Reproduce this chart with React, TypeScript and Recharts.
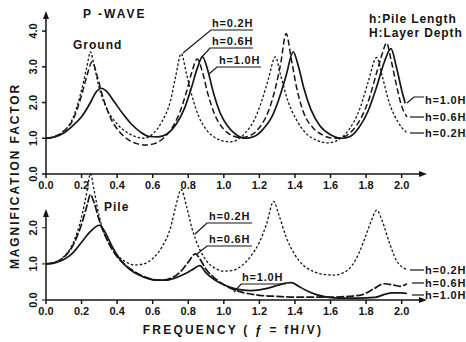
import { LineChart, Line, XAxis, YAxis, ReferenceLine } from "recharts";

// frequency ticks and value ticks
const freqTicks = [0, 0.2, 0.4, 0.6, 0.8, 1.0, 1.2, 1.4, 1.6, 1.8, 2.0];
const topTicks = [0, 1, 2, 3, 4];
const pileTicks = [0, 1, 2];

// Ground response (top panel), [f, magnification]
const groundH02: [number, number][] = [
  [0, 1.0], [0.05, 1.05], [0.1, 1.2], [0.15, 1.55], [0.2, 2.35], [0.23, 3.0], [0.25, 3.42],
  [0.27, 3.05], [0.3, 2.4], [0.35, 1.75], [0.4, 1.4], [0.45, 1.18], [0.5, 1.05], [0.55, 1.0],
  [0.6, 1.12], [0.65, 1.45], [0.7, 2.05], [0.73, 2.75], [0.76, 3.37], [0.79, 2.8], [0.82, 2.2],
  [0.86, 1.6], [0.9, 1.25], [0.95, 1.02], [1.0, 0.92], [1.04, 0.9], [1.08, 0.97], [1.12, 1.15],
  [1.17, 1.5], [1.21, 2.0], [1.25, 2.65], [1.29, 3.28], [1.32, 2.75], [1.36, 2.05], [1.41, 1.5],
  [1.46, 1.15], [1.52, 0.95], [1.58, 0.87], [1.63, 0.92], [1.68, 1.1], [1.73, 1.45], [1.77, 1.9],
  [1.81, 2.55], [1.86, 3.26], [1.89, 2.75], [1.93, 2.0], [1.98, 1.45], [2.03, 1.15],
];
const groundH06: [number, number][] = [
  [0, 1.0], [0.05, 1.05], [0.1, 1.2], [0.15, 1.5], [0.2, 2.2], [0.23, 2.75], [0.26, 3.14],
  [0.29, 2.7], [0.32, 2.15], [0.36, 1.6], [0.41, 1.2], [0.46, 0.97], [0.51, 0.85], [0.56, 0.81],
  [0.61, 0.85], [0.66, 1.0], [0.71, 1.3], [0.75, 1.7], [0.79, 2.3], [0.82, 2.85], [0.85, 3.22],
  [0.88, 2.85], [0.91, 2.25], [0.95, 1.65], [1.0, 1.25], [1.05, 1.07], [1.1, 1.02], [1.15, 1.08],
  [1.2, 1.3], [1.25, 1.75], [1.29, 2.4], [1.32, 3.1], [1.35, 3.93], [1.38, 3.2], [1.41, 2.4],
  [1.45, 1.7], [1.5, 1.3], [1.56, 1.08], [1.62, 1.0], [1.67, 1.03], [1.72, 1.2], [1.77, 1.55],
  [1.82, 2.15], [1.86, 2.85], [1.89, 3.35], [1.915, 3.67], [1.94, 3.2], [1.97, 2.5], [2.0, 1.9],
  [2.03, 1.6],
];
const groundH10: [number, number][] = [
  [0, 1.0], [0.05, 1.04], [0.1, 1.15], [0.15, 1.35], [0.2, 1.6], [0.25, 2.0], [0.28, 2.28],
  [0.31, 2.4], [0.34, 2.32], [0.38, 2.05], [0.43, 1.7], [0.48, 1.4], [0.53, 1.18], [0.58, 1.05],
  [0.63, 1.04], [0.68, 1.12], [0.73, 1.38], [0.78, 1.85], [0.82, 2.45], [0.85, 2.95], [0.88, 3.28],
  [0.91, 2.9], [0.94, 2.3], [0.98, 1.7], [1.02, 1.35], [1.07, 1.1], [1.12, 1.0], [1.17, 1.05],
  [1.22, 1.25], [1.27, 1.6], [1.31, 2.1], [1.35, 2.75], [1.39, 3.42], [1.42, 3.0], [1.45, 2.4],
  [1.49, 1.8], [1.54, 1.35], [1.6, 1.1], [1.66, 1.0], [1.71, 1.05], [1.76, 1.3], [1.81, 1.75],
  [1.86, 2.45], [1.9, 3.1], [1.94, 3.51], [1.97, 3.0], [2.0, 2.35], [2.02, 1.98],
];

// Pile response (bottom panel)
const pileH02: [number, number][] = [
  [0, 1.0], [0.05, 1.05], [0.1, 1.2], [0.15, 1.55], [0.2, 2.3], [0.23, 3.0], [0.25, 3.5],
  [0.27, 3.05], [0.3, 2.3], [0.35, 1.6], [0.4, 1.25], [0.45, 1.05], [0.5, 0.97], [0.55, 1.0],
  [0.6, 1.15], [0.65, 1.45], [0.7, 2.0], [0.73, 2.6], [0.76, 3.06], [0.79, 2.6], [0.82, 2.0],
  [0.86, 1.45], [0.9, 1.1], [0.95, 0.88], [1.0, 0.8], [1.05, 0.82], [1.1, 0.95], [1.15, 1.2],
  [1.2, 1.6], [1.24, 2.1], [1.28, 2.73], [1.31, 2.35], [1.35, 1.75], [1.4, 1.25], [1.45, 0.95],
  [1.5, 0.8], [1.56, 0.71], [1.62, 0.69], [1.67, 0.75], [1.72, 0.95], [1.76, 1.3], [1.8, 1.8],
  [1.83, 2.2], [1.86, 2.49], [1.89, 2.2], [1.93, 1.6], [1.97, 1.1], [2.0, 0.92], [2.03, 0.85],
];
const pileH06: [number, number][] = [
  [0, 1.0], [0.05, 1.04], [0.1, 1.18], [0.15, 1.5], [0.2, 2.1], [0.23, 2.6], [0.25, 2.92],
  [0.27, 2.7], [0.3, 2.2], [0.35, 1.6], [0.4, 1.2], [0.45, 0.95], [0.5, 0.78], [0.55, 0.65],
  [0.6, 0.57], [0.65, 0.55], [0.7, 0.6], [0.75, 0.75], [0.8, 1.05], [0.84, 1.28], [0.87, 1.1],
  [0.9, 0.85], [0.95, 0.6], [1.0, 0.42], [1.05, 0.3], [1.1, 0.22], [1.2, 0.13], [1.3, 0.1],
  [1.4, 0.08], [1.5, 0.08], [1.6, 0.08], [1.7, 0.1], [1.78, 0.15], [1.84, 0.3], [1.9, 0.45],
  [1.95, 0.42], [1.99, 0.38], [2.03, 0.45],
];
const pileH10: [number, number][] = [
  [0, 1.0], [0.05, 1.03], [0.1, 1.12], [0.15, 1.3], [0.2, 1.6], [0.25, 1.9], [0.3, 2.07],
  [0.33, 1.9], [0.37, 1.5], [0.42, 1.1], [0.47, 0.85], [0.52, 0.7], [0.57, 0.6], [0.62, 0.55],
  [0.67, 0.55], [0.72, 0.6], [0.77, 0.7], [0.82, 0.83], [0.865, 0.95], [0.9, 0.75], [0.95, 0.55],
  [1.0, 0.42], [1.05, 0.33], [1.1, 0.28], [1.15, 0.26], [1.2, 0.28], [1.25, 0.33], [1.3, 0.4],
  [1.35, 0.47], [1.38, 0.48], [1.42, 0.38], [1.47, 0.25], [1.52, 0.15], [1.58, 0.08], [1.65, 0.05],
  [1.75, 0.05], [1.85, 0.07], [1.9, 0.15], [1.95, 0.2], [2.0, 0.2], [2.03, 0.18],
];

const pts = (a: [number, number][]) => a.map(([f, v]) => ({ f, v }));

const INK = "#151515";
const FONT = "'Liberation Sans', Arial, sans-serif";

const XTick = ({ x, y, payload }: any) => (
  <text x={x} y={y + 9} textAnchor="middle" fontSize={11} fontWeight="bold" fill={INK} fontFamily={FONT}>
    {payload.value.toFixed(1)}
  </text>
);

const YTick = ({ y, payload }: any) => (
  <text
    x={33}
    y={y}
    transform={`rotate(-90 33 ${y})`}
    textAnchor="middle"
    dominantBaseline="central"
    fontSize={11}
    fontWeight="bold"
    fill={INK}
    fontFamily={FONT}
  >
    {payload.value.toFixed(1)}
  </text>
);

const lbl = { fontSize: 11, fontWeight: "bold" as const, fill: INK, fontFamily: FONT, letterSpacing: 0.8 };

export default function App() {
  return (
    <div style={{ position: "absolute", left: 0, top: 0, width: 466, height: 342, background: "#fff" }}>
      <div style={{ position: "absolute", left: 0, top: 0 }}>
        <LineChart width={466} height={195} margin={{ top: 15, right: 43, bottom: 0, left: 0 }}>
          <XAxis
            dataKey="f"
            type="number"
            domain={[0, 2.12]}
            ticks={freqTicks}
            tick={<XTick />}
            tickSize={4}
            height={21}
            stroke={INK}
            strokeWidth={1.5}
            allowDataOverflow
          />
          <YAxis
            type="number"
            domain={[0, 4.45]}
            ticks={topTicks}
            tick={<YTick />}
            tickSize={4}
            width={46}
            stroke={INK}
            strokeWidth={1.5}
            allowDataOverflow
          />
          <Line data={pts(groundH02)} dataKey="v" type="monotone" stroke={INK} strokeWidth={1.3} strokeDasharray="2.5 2" dot={false} isAnimationActive={false} />
          <Line data={pts(groundH06)} dataKey="v" type="monotone" stroke={INK} strokeWidth={1.5} strokeDasharray="6 3" dot={false} isAnimationActive={false} />
          <Line data={pts(groundH10)} dataKey="v" type="monotone" stroke={INK} strokeWidth={1.7} dot={false} isAnimationActive={false} />
        </LineChart>
      </div>
      <div style={{ position: "absolute", left: 0, top: 165 }}>
        <LineChart width={466} height={155} margin={{ top: 5, right: 43, bottom: 0, left: 0 }}>
          <XAxis
            dataKey="f"
            type="number"
            domain={[0, 2.12]}
            ticks={freqTicks}
            tick={<XTick />}
            tickSize={4}
            height={20}
            stroke={INK}
            strokeWidth={1.5}
            allowDataOverflow
          />
          <YAxis
            type="number"
            domain={[0, 3.6]}
            ticks={pileTicks}
            tick={<YTick />}
            tickSize={4}
            width={46}
            stroke={INK}
            axisLine={false}
            allowDataOverflow
          />
          <ReferenceLine segment={[{ x: 0, y: 0 }, { x: 0, y: 2.45 }]} stroke={INK} strokeWidth={1.5} />
          <Line data={pts(pileH02)} dataKey="v" type="monotone" stroke={INK} strokeWidth={1.3} strokeDasharray="2.5 2" dot={false} isAnimationActive={false} />
          <Line data={pts(pileH06)} dataKey="v" type="monotone" stroke={INK} strokeWidth={1.7} strokeDasharray="8 2" dot={false} isAnimationActive={false} />
          <Line data={pts(pileH10)} dataKey="v" type="monotone" stroke={INK} strokeWidth={1.7} dot={false} isAnimationActive={false} />
        </LineChart>
      </div>
      <svg width={466} height={342} style={{ position: "absolute", left: 0, top: 0, pointerEvents: "none" }}>
        {/* axis arrowheads */}
        <polygon points="46,11 43,19 49,19" fill={INK} />
        <polygon points="427,174 419,171 419,177" fill={INK} />
        <polygon points="46,209 43,217 49,217" fill={INK} />
        <polygon points="427,300 419,297 419,303" fill={INK} />

        <text x={83} y={18} {...lbl} fontSize={12} letterSpacing={2}>P -WAVE</text>
        <text x={73} y={49} {...lbl} fontSize={12} letterSpacing={1}>Ground</text>
        <text x={369} y={23} {...lbl} fontSize={12} letterSpacing={0.9}>h:Pile Length</text>
        <text x={369} y={37} {...lbl} fontSize={12} letterSpacing={0.9}>H:Layer Depth</text>

        {/* top panel callouts */}
        <text x={212} y={27} {...lbl}>h=0.2H</text>
        <polyline points="183,53 211,30 253,30" fill="none" stroke={INK} strokeWidth={1.2} />
        <text x={212} y={45} {...lbl}>h=0.6H</text>
        <polyline points="201,58 210,48 253,48" fill="none" stroke={INK} strokeWidth={1.2} />
        <text x={219} y={64} {...lbl}>h=1.0H</text>
        <polyline points="209,74 217,67 261,67" fill="none" stroke={INK} strokeWidth={1.2} />

        <text x={425} y={104} {...lbl}>h=1.0H</text>
        <polyline points="407,103 414,97 424,97" fill="none" stroke={INK} strokeWidth={1.2} />
        <text x={425} y={121} {...lbl}>h=0.6H</text>
        <line x1={410} y1={117} x2={424} y2={117} stroke={INK} strokeWidth={1.2} />
        <text x={425} y={137} {...lbl}>h=0.2H</text>
        <line x1={410} y1={133} x2={424} y2={133} stroke={INK} strokeWidth={1.2} />

        {/* bottom panel callouts */}
        <text x={104} y={211} {...lbl} fontSize={12} letterSpacing={1}>Pile</text>
        <text x={209} y={220} {...lbl}>h=0.2H</text>
        <polyline points="195,234 207,223 252,223" fill="none" stroke={INK} strokeWidth={1.2} />
        <text x={209} y={243} {...lbl}>h=0.6H</text>
        <polyline points="197,254 207,246 252,246" fill="none" stroke={INK} strokeWidth={1.2} />
        <text x={242} y={281} {...lbl}>h=1.0H</text>
        <polyline points="234,292 241,284 286,284" fill="none" stroke={INK} strokeWidth={1.2} />

        <text x={425} y={274} {...lbl}>h=0.2H</text>
        <line x1={410} y1={270} x2={424} y2={270} stroke={INK} strokeWidth={1.2} />
        <text x={425} y={287} {...lbl}>h=0.6H</text>
        <line x1={412} y1={283} x2={424} y2={283} stroke={INK} strokeWidth={1.2} />
        <text x={425} y={299} {...lbl}>h=1.0H</text>
        <line x1={412} y1={295} x2={424} y2={295} stroke={INK} strokeWidth={1.2} />

        <text x={233} y={334} {...lbl} fontSize={12} letterSpacing={2.2} textAnchor="middle">
          FREQUENCY  ( ƒ = fH/V)
        </text>
        <text
          x={15}
          y={176}
          {...lbl}
          fontSize={12}
          letterSpacing={1.9}
          textAnchor="middle"
          dominantBaseline="central"
          transform="rotate(-90 15 176)"
        >
          MAGNIFICATION FACTOR
        </text>
      </svg>
    </div>
  );
}
